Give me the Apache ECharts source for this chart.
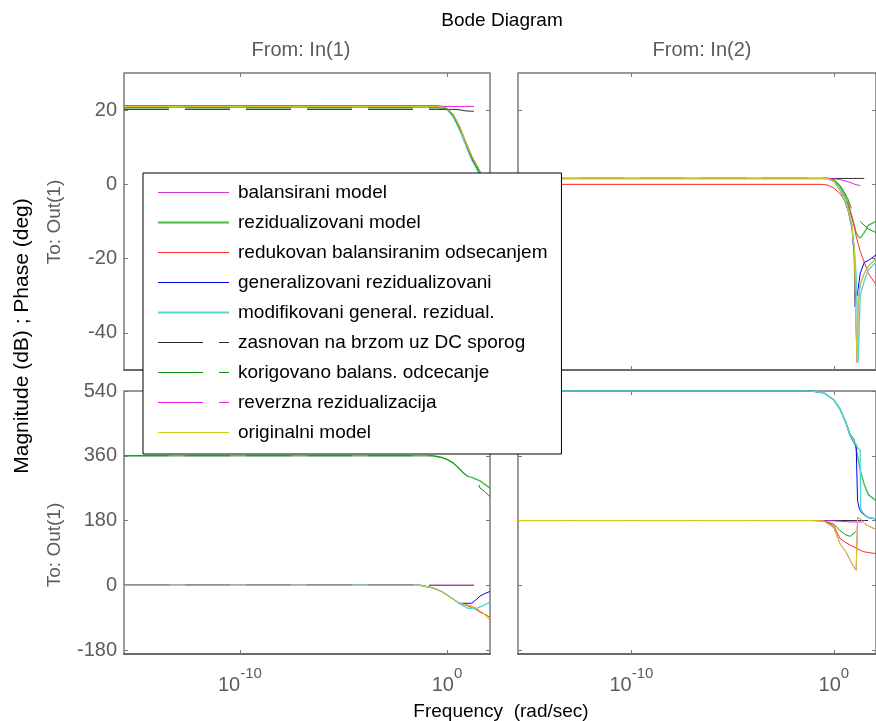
<!DOCTYPE html>
<html>
<head>
<meta charset="utf-8">
<script src="https://cdn.jsdelivr.net/npm/echarts@6/dist/echarts.min.js"></script>
<style>
  html, body { margin: 0; padding: 0; background: #fff; }
  #chart { width: 876px; height: 721px; }
</style>
</head>
<body>
<div id="chart"></div>
<script>
// Frequency axis values are log10(ω), ω in rad/sec.
// Model names (legend order)
const modelNames = [
  'balansirani model',
  'rezidualizovani model',
  'redukovan balansiranim odsecanjem',
  'generalizovani rezidualizovani',
  'modifikovani general. rezidual.',
  'zasnovan na brzom uz DC sporog',
  'korigovano balans. odcecanje',
  'reverzna rezidualizacija',
  'originalni model'
];

// Tick values
const freqTicks = [-10, 0];
const magTicks = [20, 0, -20, -40];
const phaseTicks = [540, 360, 180, 0, -180];

// ---- Magnitude (dB), In(1) -> Out(1)
const freqA = [-15.6, -1, -0.5, -0.2, 0, 0.3, 0.6, 0.9, 1.2, 1.5, 1.8, 2.08];
const magA_bal = [21, 21, 21, 20.8, 20.4, 18.7, 15.6, 11.4, 7.4, 4.4, 1.2, -2];
const magA_rez = [20.9, 20.9, 20.9, 20.8, 20.4, 18.6, 15.4, 11.2, 7.2, 4.3, 1.0, -2.2];
const magA_red = [21.2, 21.2, 21.2, 21.0, 20.5, 18.9, 15.8, 11.6, 7.6, 4.6, 1.4, -1.8];
const magA_gen = [20.9, 20.9, 20.9, 20.7, 20.3, 18.3, 15.0, 10.8, 6.8, 3.8, 0.6, -2.6];
const magA_mod = [20.9, 20.9, 20.9, 20.7, 20.2, 18.2, 14.8, 10.6, 6.5, 3.4, 0.2, -3];
const magA_zas = [20.2, 20.2, 20.2, 20.2, 20.2, 20.2, 20.1, 19.8, 19.7, 19.7, null, null];
const magA_kor = [20.6, 20.6, 20.6, 20.5, 20.3, 18.5, 15.3, 11.1, 7.1, 4.1, 0.9, -2.4];
const magA_rev = [21.0, 21.0, 21.0, 21.0, 21.0, 21.0, 21.0, 21.0, 21.0, 21.0, null, null];
const magA_org = [21, 21, 21, 20.8, 20.5, 18.8, 15.7, 11.5, 7.5, 4.5, 1.3, -1.9];

// ---- Magnitude (dB), In(2) -> Out(1)
const freqB = [-15.6, -0.6, -0.3, 0, 0.3, 0.5, 0.7, 0.9, 0.95, 1.0, 1.05, 1.1, 1.15, 1.2, 1.3, 1.5, 1.7, 2.08];
const magB_bal = [1.6, 1.6, 1.6, 0.9, -1.2, -3.5, -6.5, -11, -15, -16, -30, -40, -48, -32, -27, -24, -22, -20];
const magB_rez = [1.6, 1.6, 1.6, 1.2, -0.5, -2.5, -5, -9, -10, -11, -12, -13, -13.5, -14, -14.5, -13, -11, -10];
const magB_red = [0, 0, -0.2, -1, -2.5, -3.8, -5.5, -9, -10, -11, -12.5, -14, -15, -16, -18, -21, -24, -27];
const magB_gen = [1.6, 1.6, 1.6, 0.8, -1.5, -4, -7, -12, -16, -18, -33, -29, -30, -28, -24, -21, -20.5, -19];
const magB_mod = [1.6, 1.6, 1.6, 0.8, -1.4, -3.8, -6.8, -11.5, -15, -17, -20, -25, -35, -48, -30, -26, -23, -21];
const magB_zas = [1.6, 1.6, 1.6, 1.6, 1.6, 1.6, 1.6, 1.6, 1.6, 1.6, 1.6, 1.6, 1.6, 1.6, 1.6, 1.6, null, null];
const magB_kor = [1.6, 1.6, 1.6, 1.2, -0.3, -2, -4, -7, -7.5, -8, -8.5, -8.5, -9, -9.5, -10, -11, -12, -13];
const magB_rev = [1.6, 1.6, 1.6, 1.5, 1.3, 1.0, 0.7, 0.3, 0.2, 0.1, 0, -0.1, -0.2, -0.2, -0.3, null, null, null];
const magB_org = [1.6, 1.6, 1.6, 0.9, -1.2, -3.5, -6.5, -11, -15, -16, -30, -40, -48, -32, -27, -24, -22, -20];

// ---- Phase (deg), In(1) -> Out(1)
const freqC = [-15.6, -1.3, -1.25, -0.7, -0.3, 0, 0.3, 0.58, 0.8, 1.0, 1.2, 1.45, 1.6, 1.8, 2.08];
const phC_bal = [0, 0, -5, -7, -16, -27, -38, -50, -52, -55, -58, -65, -72, -80, -97];
const phC_rez = [360, 360, 360, 360, 356, 350, 340, 325, 312, 303, 300, 294, 290, 282, 270];
const phC_red = [0, 0, -5, -7, -16, -27, -38, -50, -53, -57, -62, -69, -75, -80, -89];
const phC_gen = [0, 0, -5, -7, -16, -27, -38, -50, -50, -50, -50, -38, -30, -24, -17];
const phC_mod = [0, 0, -5, -7, -16, -27, -38, -50, -57, -64, -64, -64, -60, -55, -47];
const phC_zas = [0, 0, 0, 0, 0, 0, 0, 0, 0, 0, 0, 0, null, null, null];
const phC_kor = [360, 360, 360, 360, 356, 350, 340, 325, 312, 303, 300, 294, 270, 262, 246];
const phC_rev = [0, 0, 0, 0, 0, 0, 0, 0, 0, 0, 0, 0, null, null, null];
const phC_org = [0, 0, -5, -7, -16, -27, -38, -50, -52, -55, -58, -65, -72, -80, -97];

// ---- Phase (deg), In(2) -> Out(1)
const freqD = [-15.6, -1.1, -0.5, 0, 0.3, 0.6, 0.8, 1.0, 1.1, 1.15, 1.17, 1.25, 1.3, 1.32, 1.4, 1.5, 1.7, 2.08];
const phD_bal = [180, 180, 179, 160, 116, 92, 70, 50, 42, 42, 188, 190, 185, 183, 178, 172, 165, 155];
const phD_rez = [540, 540, 535, 515, 490, 452, 420, 405, 380, 365, 360, 335, 320, 315, 300, 280, 252, 235];
const phD_red = [180, 180, 179, 165, 130, 118, 112, 106, 104, 103, 102, 99, 97, 96, 95, 93, 91, 88];
const phD_gen = [540, 540, 535, 515, 490, 450, 415, 395, 389, 387, 235, 215, 208, 205, 200, 195, 188, 184];
const phD_mod = [540, 540, 535, 515, 490, 451, 417, 398, 392, 388, 382, 378, 375, 215, 205, 197, 189, 185];
const phD_zas = [180, 180, 180, 180, 180, 180, 180, 180, 180, 180, 180, 180, 180, 180, 180, 180, 180, 180];
const phD_kor = [180, 180, 179, 170, 152, 140, 136, 145, 150, null, null, null, null, null, null, null, null, null];
const phD_rev = [180, 180, 180, 179, 178, 177, 176, 176, 176, 176, 176, 176, 176, 176, 176, null, null, null];
const phD_org = [180, 180, 179, 160, 116, 92, 70, 50, 42, 42, 188, 190, 185, 183, 178, 172, 165, 155];

// Line appearance per model
const lineColors = ['#d633d6', '#45c045', '#ff2b2b', '#0000f0', '#55d8d8', '#2a2a2a', '#139313', '#e41ee4', '#d6cc12'];
const lineWidths = [1, 1.4, 1, 1, 1.4, 1, 1, 1, 1];
const dashed = [false, false, false, false, false, true, true, true, false];

const panels = [
  { freq: freqA, curves: [magA_bal, magA_rez, magA_red, magA_gen, magA_mod, magA_zas, magA_kor, magA_rev, magA_org] },
  { freq: freqB, curves: [magB_bal, magB_rez, magB_red, magB_gen, magB_mod, magB_zas, magB_kor, magB_rev, magB_org] },
  { freq: freqC, curves: [phC_bal, phC_rez, phC_red, phC_gen, phC_mod, phC_zas, phC_kor, phC_rev, phC_org] },
  { freq: freqD, curves: [phD_bal, phD_rez, phD_red, phD_gen, phD_mod, phD_zas, phD_kor, phD_rev, phD_org] }
];

const FONT = "'Liberation Sans', Arial, sans-serif";
const AXIS_GRAY = '#7a7a7a';
const LABEL_GRAY = '#5c5c5c';

const grids = [
  { left: 124, top: 73, width: 366, height: 297 },
  { left: 518, top: 73, width: 366, height: 297 },
  { left: 124, top: 391, width: 366, height: 263 },
  { left: 518, top: 391, width: 366, height: 263 }
].map(g => Object.assign(g, { show: true, borderColor: AXIS_GRAY, borderWidth: 1.5, backgroundColor: '#fff' }));

const xAxes = [];
const yAxes = [];
for (let i = 0; i < 4; i++) {
  const isBottomRow = i >= 2;
  const tickStyle = { show: true, inside: true, length: 4, lineStyle: { color: AXIS_GRAY, width: 1 }, customValues: freqTicks };
  xAxes.push({
    type: 'value', gridIndex: i, position: 'bottom', min: -15.6, max: 2.08,
    axisLine: { show: true, onZero: false, lineStyle: { color: '#6a6a6a', width: 2 } },
    axisTick: tickStyle,
    splitLine: { show: false },
    axisLabel: {
      show: isBottomRow, customValues: freqTicks, margin: 12,
      formatter: v => '{b|10}{s|' + v + '}',
      rich: {
        b: { fontFamily: FONT, fontSize: 20, color: LABEL_GRAY, verticalAlign: 'bottom' },
        s: { fontFamily: FONT, fontSize: 15, color: LABEL_GRAY, verticalAlign: 'bottom', padding: [0, 0, 14, 0] }
      }
    }
  });
  xAxes.push({
    type: 'value', gridIndex: i, position: 'top', min: -15.6, max: 2.08,
    axisLine: { show: false, onZero: false }, axisTick: tickStyle, axisLabel: { show: false }, splitLine: { show: false }
  });
  const yTicks = isBottomRow ? phaseTicks : magTicks;
  const yMin = isBottomRow ? -191 : -50;
  const yMax = isBottomRow ? 540 : 30;
  const yTickStyle = { show: true, inside: true, length: 4, lineStyle: { color: AXIS_GRAY, width: 1 }, customValues: yTicks };
  yAxes.push({
    type: 'value', gridIndex: i, position: 'left', min: yMin, max: yMax,
    axisLine: { show: false, onZero: false }, axisTick: yTickStyle, splitLine: { show: false },
    axisLabel: {
      show: i % 2 === 0, customValues: yTicks, margin: 7,
      fontFamily: FONT, fontSize: 20, color: LABEL_GRAY
    }
  });
  yAxes.push({
    type: 'value', gridIndex: i, position: 'right', min: yMin, max: yMax,
    axisLine: { show: false, onZero: false }, axisTick: yTickStyle, axisLabel: { show: false }, splitLine: { show: false }
  });
}

const series = [];
panels.forEach((p, pi) => {
  p.curves.forEach((vals, mi) => {
    series.push({
      type: 'line',
      name: modelNames[mi],
      xAxisIndex: pi * 2,
      yAxisIndex: pi * 2,
      data: p.freq.map((f, k) => [f, vals[k]]),
      symbol: 'none',
      showSymbol: false,
      connectNulls: false,
      silent: true,
      lineStyle: {
        color: lineColors[mi],
        width: lineWidths[mi],
        type: dashed[mi] ? [45, 16] : 'solid'
      },
      itemStyle: { color: lineColors[mi] },
      z: 2 + mi * 0.01
    });
  });
});

const chart = echarts.init(document.getElementById('chart'), null, { renderer: 'canvas' });
chart.setOption({
  animation: false,
  backgroundColor: '#fff',
  grid: grids,
  xAxis: xAxes,
  yAxis: yAxes,
  series: series,
  legend: {
    data: modelNames.map((n, i) => ({
      name: n,
      lineStyle: { color: lineColors[i], width: lineWidths[i] > 1 ? 2 : 1, type: dashed[i] ? [45, 16] : 'solid' }
    })),
    orient: 'vertical',
    left: 143,
    top: 173,
    itemWidth: 71,
    itemHeight: 14,
    itemGap: 9,
    padding: [9, 14, 11, 14],
    backgroundColor: '#fff',
    borderColor: '#000',
    borderWidth: 1,
    selectedMode: false,
    itemStyle: { color: 'rgba(0,0,0,0)', borderWidth: 0, opacity: 0 },
    textStyle: { fontFamily: FONT, fontSize: 19, color: '#000', lineHeight: 21, padding: [0, 0, 0, 4] }
  },
  graphic: [
    { type: 'text', x: 502, y: 21, style: { text: 'Bode Diagram', font: '19px ' + FONT, fill: '#000', textAlign: 'center', textVerticalAlign: 'middle' } },
    { type: 'text', x: 301, y: 50, style: { text: 'From: In(1)', font: '20px ' + FONT, fill: LABEL_GRAY, textAlign: 'center', textVerticalAlign: 'middle' } },
    { type: 'text', x: 702, y: 50, style: { text: 'From: In(2)', font: '20px ' + FONT, fill: LABEL_GRAY, textAlign: 'center', textVerticalAlign: 'middle' } },
    { type: 'text', x: 501, y: 712, style: { text: 'Frequency  (rad/sec)', font: '19px ' + FONT, fill: '#000', textAlign: 'center', textVerticalAlign: 'middle' } },
    { type: 'text', x: 22, y: 336, rotation: Math.PI / 2, style: { text: 'Magnitude (dB) ; Phase (deg)', font: '21px ' + FONT, fill: '#000', textAlign: 'center', textVerticalAlign: 'middle' } },
    { type: 'text', x: 55, y: 222, rotation: Math.PI / 2, style: { text: 'To: Out(1)', font: '19px ' + FONT, fill: LABEL_GRAY, textAlign: 'center', textVerticalAlign: 'middle' } },
    { type: 'text', x: 55, y: 545, rotation: Math.PI / 2, style: { text: 'To: Out(1)', font: '19px ' + FONT, fill: LABEL_GRAY, textAlign: 'center', textVerticalAlign: 'middle' } }
  ]
});
</script>
</body>
</html>
